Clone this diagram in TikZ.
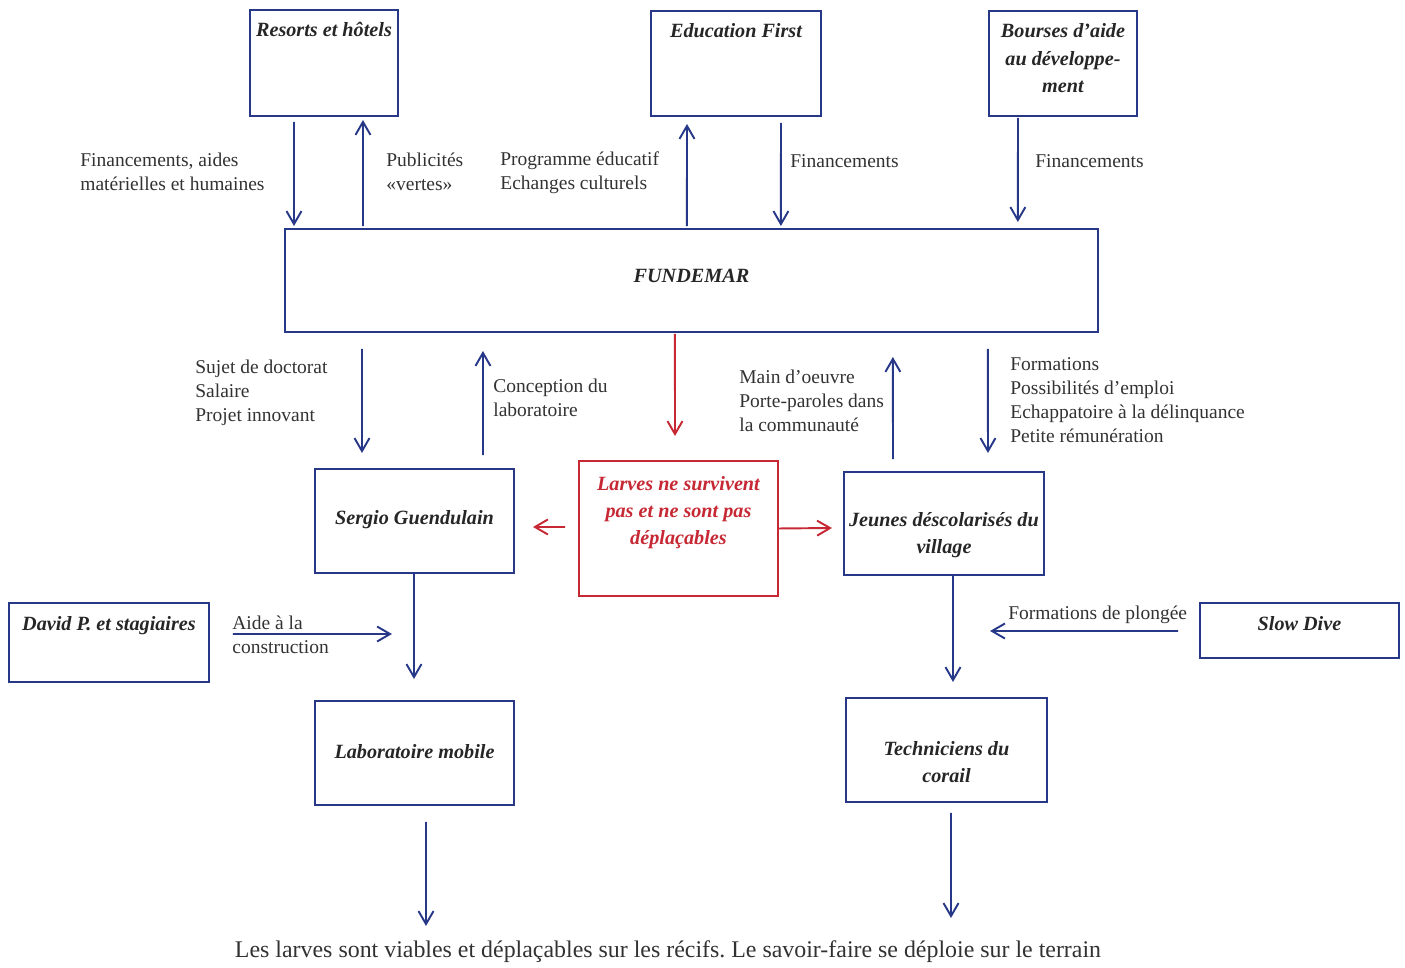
\documentclass[tikz,border=0pt]{standalone}
\usepackage{fontspec}
\setmainfont{Liberation Serif}
\usetikzlibrary{arrows.meta}
\definecolor{navyblue}{RGB}{40,56,136}
\definecolor{brickred}{RGB}{198,40,52}
\definecolor{inkgray}{RGB}{50,50,50}
\frenchspacing

\begin{document}
\begin{tikzpicture}[x=0.02cm,y=-0.02cm,
  box/.style={draw=navyblue,line width=1.3pt,inner sep=0pt,outer sep=0pt,anchor=north west,align=flush center,
    text=black!85,font=\fontsize{11.5}{15.5}\selectfont\bfseries\itshape},
  redbox/.style={box,draw=brickred,text=brickred},
  arr/.style={navyblue,line width=1.1pt,-{Straight Barb[length=2.6mm,width=3mm]}},
  redarr/.style={arr,brickred},
  txt/.style={anchor=west,align=left,inner sep=0pt,text=inkgray,font=\fontsize{11.1}{13.7}\selectfont}]
\useasboundingbox (0,0) rectangle (1405,967);
%================================================================
%	Boxes
\node[box,text width=2.96cm,text height=0.54cm,text depth=1.58cm] (resorts) at (250,10) {Resorts et hôtels};
\node[box,text width=3.40cm,text height=0.54cm,text depth=1.56cm] (educ) at (651,11) {Education First};
\node[box,text width=2.96cm,text height=0.54cm,text depth=1.56cm] (bourses) at (989,11) {Bourses d’aide\\au développe-\\ment};
%----------------------------------------------------------------
\node[box,text width=16.26cm,text height=1.08cm,text depth=0.98cm] (fund) at (285,229) {FUNDEMAR};
%----------------------------------------------------------------
\node[box,text width=3.98cm,text height=1.10cm,text depth=0.98cm] (sergio) at (315,469) {Sergio Guendulain};
\node[redbox,text width=3.98cm,text height=0.58cm,text depth=2.12cm] (larves) at (579,461) {Larves ne survivent\\pas et ne sont pas\\déplaçables};
\node[box,text width=4.00cm,text height=1.08cm,text depth=0.98cm] (jeunes) at (844,472) {Jeunes déscolarisés du\\village};
%----------------------------------------------------------------
\node[box,text width=4.00cm,text height=0.54cm,text depth=1.04cm] (david) at (9,603) {David P. et stagiaires};
\node[box,text width=3.98cm,text height=0.54cm,text depth=0.56cm] (slowdive) at (1200,603) {Slow Dive};
\node[box,text width=3.98cm,text height=1.14cm,text depth=0.94cm] (lab) at (315,701) {Laboratoire mobile};
\node[box,text width=4.02cm,text height=1.14cm,text depth=0.94cm] (tech) at (846,698) {Techniciens du\\corail};
%================================================================
%	Labels
\node[txt] (finres) at (80,172) {Financements, aides\\ matérielles et humaines};
\node[txt] (pub) at (386,172) {Publicités\\«vertes»};
\node[txt] (prog) at (500,173) {Programme éducatif\\Echanges culturels};
\node[txt] (fineduc) at (790,161) {Financements};
\node[txt] (finbourses) at (1035,161) {Financements};
\node[txt] (sujet) at (195,393) {Sujet de doctorat\\Salaire\\Projet innovant};
\node[txt] (concep) at (493,398) {Conception du\\laboratoire};
\node[txt] (main) at (739,401) {Main d’oeuvre\\Porte-paroles dans\\la communauté};
\node[txt] (form) at (1010,400) {Formations\\Possibilités d’emploi\\Echappatoire à la délinquance\\Petite rémunération};
\node[txt] (aide) at (232,635) {Aide à la\\construction};
\node[txt] (plong) at (1008,615) {Formations de plongée};
\node[txt,anchor=center,font=\fontsize{13.6}{16}\selectfont] (caption) at (668,952) {Les larves sont viables et déplaçables sur les récifs. Le savoir-faire se déploie sur le terrain};
%================================================================
%	Arrows
\coordinate (aidend) at (392,634);
\coordinate (plongend) at (990,631);
\coordinate (labend) at (426,926);
\coordinate (techend) at (951,918);
%----------------------------------------------------------------
\draw[arr] ([xshift=-0.60cm,yshift=-0.12cm]resorts.south) -- ([xshift=0.18cm,yshift=0.06cm]fund.north west);
\draw[arr] ([xshift=1.56cm,yshift=0.06cm]fund.north west) -- ([xshift=0.78cm,yshift=-0.08cm]resorts.south);
\draw[arr] ([xshift=8.04cm,yshift=0.06cm]fund.north west) -- ([xshift=-0.98cm,yshift=-0.16cm]educ.south);
\draw[arr] ([xshift=0.90cm,yshift=-0.14cm]educ.south) -- ([xshift=9.92cm,yshift=0.06cm]fund.north west);
\draw[arr] ([xshift=-0.90cm,yshift=-0.04cm]bourses.south) -- ([xshift=14.66cm,yshift=0.14cm]fund.north west);
%----------------------------------------------------------------
\draw[arr] ([xshift=1.54cm,yshift=-0.34cm]fund.south west) -- ([xshift=-1.05cm,yshift=0.32cm]sergio.north);
\draw[arr] ([xshift=1.37cm,yshift=0.28cm]sergio.north) -- ([xshift=3.96cm,yshift=-0.38cm]fund.south west);
\draw[redarr] ([xshift=7.80cm,yshift=-0.04cm]fund.south west) -- ([xshift=-0.07cm,yshift=0.50cm]larves.north);
\draw[arr] ([xshift=-1.02cm,yshift=0.26cm]jeunes.north) -- ([xshift=12.16cm,yshift=-0.50cm]fund.south west);
\draw[arr] ([xshift=14.06cm,yshift=-0.34cm]fund.south west) -- ([xshift=0.88cm,yshift=0.38cm]jeunes.north);
%----------------------------------------------------------------
\draw[redarr] ([xshift=-0.28cm,yshift=0.03cm]larves.west) -- ([xshift=0.38cm,yshift=-0.12cm]sergio.east);
\draw[redarr] (larves.east) -- ([xshift=-0.24cm,yshift=-0.09cm]jeunes.west);
%----------------------------------------------------------------
\draw[arr] ([xshift=-0.01cm]sergio.south) -- ([xshift=-0.01cm,yshift=0.44cm]lab.north);
\draw[arr] ([xshift=0.48cm,yshift=0.17cm]david.east) -- (aidend);
\draw[arr] ([xshift=0.18cm]jeunes.south) -- ([xshift=0.13cm,yshift=0.32cm]tech.north);
\draw[arr] ([xshift=-0.44cm,yshift=-0.01cm]slowdive.west) -- (plongend);
\draw[arr] ([xshift=0.23cm,yshift=-0.34cm]lab.south) -- (labend);
\draw[arr] ([xshift=0.09cm,yshift=-0.22cm]tech.south) -- (techend);
%================================================================
\end{tikzpicture}
\end{document}
